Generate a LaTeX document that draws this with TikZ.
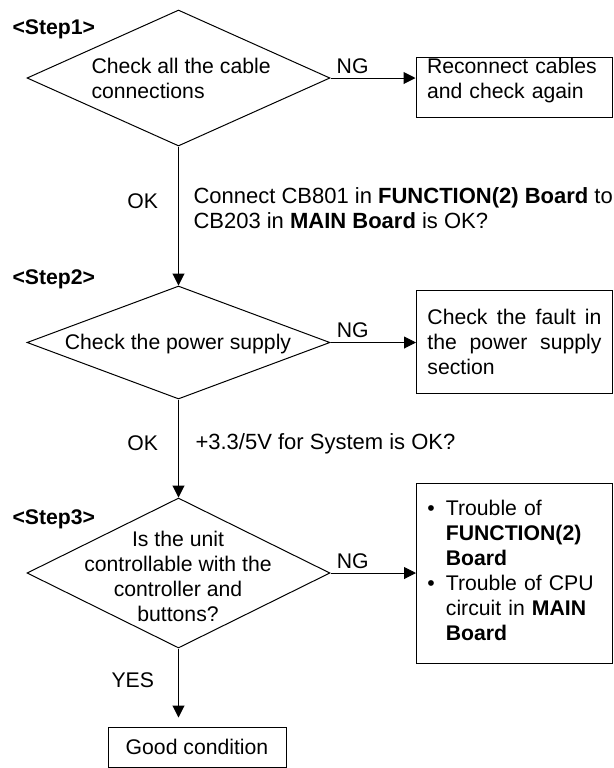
\documentclass[tikz,border=0pt]{standalone}
\usepackage{fontspec}
\setmainfont{Liberation Sans}
\usetikzlibrary{positioning,arrows.meta,shapes.geometric}
\tolerance=10000

\begin{document}
\begin{tikzpicture}[
  x=0.5pt, y=-0.5pt, line width=0.5pt,
  font=\fontsize{10.6}{12.5}\selectfont,
  decision/.style={draw, diamond, inner sep=0pt, minimum width=151.5pt},
  box/.style={draw, inner xsep=5.5pt, inner ysep=0pt, text width=87pt, align=left},
  endbox/.style={draw, inner sep=0pt, minimum width=89pt, minimum height=20pt},
  txt/.style={inner sep=0pt},
  note/.style={inner sep=0pt, anchor=base west, font=\fontsize{11}{12.5}\selectfont},
  steptag/.style={inner sep=0pt, anchor=base west, font=\fontsize{10.6}{12.5}\selectfont\bfseries},
  arr/.style={-{Triangle[length=6pt,width=6pt]}}
]
\useasboundingbox (0,0) rectangle (614,768);

% Step 1
\node[steptag] (s1) at (12,34) {<Step1>};
\node[decision, minimum height=68pt] (d1) at (178.5,78) {};
\node[txt, anchor=base west] (d1t) at (91,73.5)
  {\begin{tabular}[t]{@{}l@{}}Check all the cable\\connections\end{tabular}};
\node[box, minimum height=30pt, text depth=21.2pt] (b1) at (514,87)
  {Reconnect cables\\and check again};
\draw[arr] (d1.east) -- node[txt, pos=.26, above=2pt] (ng1) {NG} (d1.east -| b1.west);

% Step 2
\node[steptag] (s2) at (12,284) {<Step2>};
\node[decision, minimum height=56.5pt] (d2) at (178.5,342.5) {};
\node[txt, anchor=base] (d2t) at (178,349.5) {Check the power supply};
\node[box, align=justify, minimum height=51.5pt] (b2) at (514.5,341.5)
  {Check the fault in the power supply section};
\draw[arr] (d2.east) -- node[txt, pos=.26, above=2pt] (ng2) {NG} (d2.east -| b2.west);

\draw[arr] (d1.south) -- node[txt, pos=.39, left=10pt] (ok1) {OK} (d2.north);
\node[note] (n1) at (193,203.5)
  {\begin{tabular}[t]{@{}l@{}}Connect CB801 in \textbf{FUNCTION(2) Board} to\\
   CB203 in \textbf{MAIN Board} is OK?\end{tabular}};

% Step 3
\node[steptag] (s3) at (12,524) {<Step3>};
\node[decision, minimum height=75pt] (d3) at (178.5,573) {};
\node[txt, anchor=base] (d3t) at (178,546.5)
  {\begin{tabular}[t]{@{}c@{}}Is the unit\\controllable with the\\controller and\\buttons?\end{tabular}};
\node[box, minimum height=90pt] (b3) at (514.5,573)
  {\begin{tabular}{@{}l@{\hspace{5.5pt}}l@{}}
   \textbullet & Trouble of\\
               & \textbf{FUNCTION(2)}\\
               & \textbf{Board}\\
   \textbullet & Trouble of CPU\\
               & circuit in \textbf{MAIN}\\
               & \textbf{Board}
   \end{tabular}};
\draw[arr] (d3.east) -- node[txt, pos=.26, above=2pt] (ng3) {NG} (d3.east -| b3.west);

\draw[arr] (d2.south) -- node[txt, pos=.45, left=10pt] (ok2) {OK} (d3.north);
\node[note] (n2) at (195,449.5) {+3.3/5V for System is OK?};

% result
\node[endbox] (good) at (197,747) {Good condition};
\draw[arr, shorten >=4.5pt] (d3.south) -- node[txt, pos=.405, left=12pt] (yes) {YES} (d3.south |- good.north);
\end{tikzpicture}
\end{document}
